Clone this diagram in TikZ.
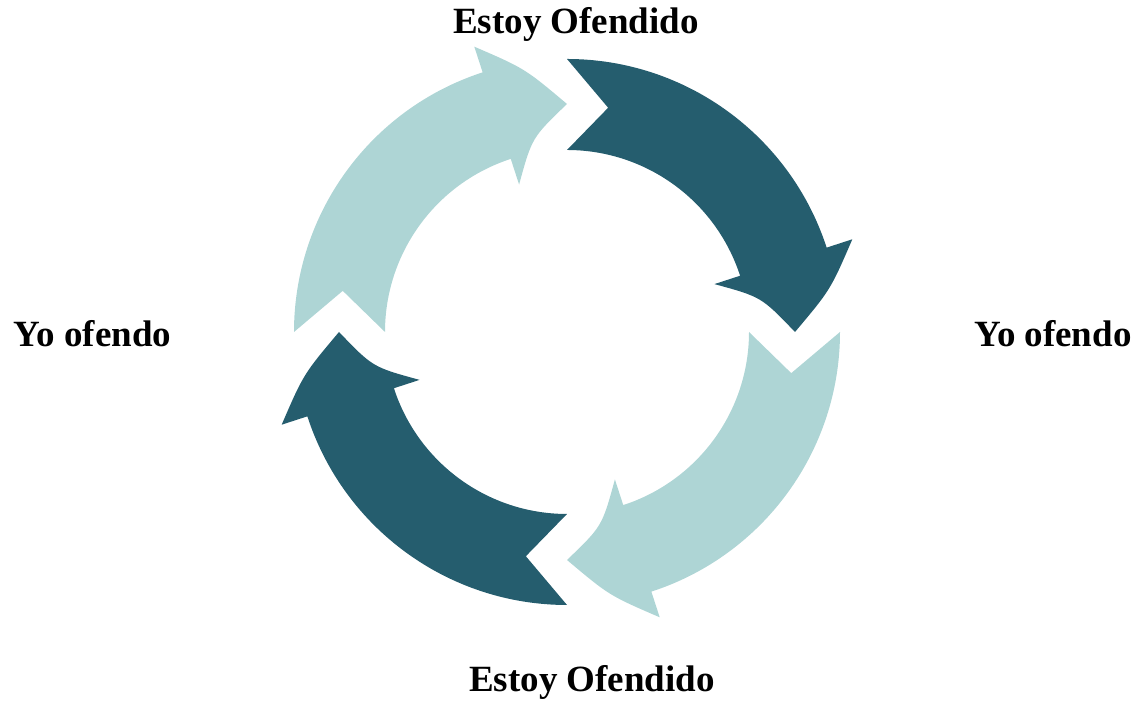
\documentclass[tikz,border=0pt]{standalone}
\usepackage{fontspec}
\setmainfont{Liberation Serif}
\definecolor{darkteal}{RGB}{37,93,110}
\definecolor{lightteal}{RGB}{174,213,213}
\tikzset{
  lbl/.style={font=\bfseries\fontsize{18.5}{22}\selectfont, anchor=base, inner sep=0pt},
}
\newcommand{\cyclearrow}[2]{%
  \begin{scope}[shift={(567,372)}, rotate=#1]
    \fill[#2] (90:273) arc[start angle=90, end angle=18, radius=273]
      -- (18:300) .. controls (263.5,42.2) .. (0:228)
      .. controls (194.3,35.1) .. (18:155)
      -- (18:182) arc[start angle=18, end angle=90, radius=182]
      -- (79.6:228) -- cycle;
  \end{scope}}
\begin{document}
\begin{tikzpicture}[x=0.5pt, y=0.5pt]
  \useasboundingbox (0,0) rectangle (1146,704);
  \cyclearrow{0}{darkteal}
  \cyclearrow{-90}{lightteal}
  \cyclearrow{-180}{darkteal}
  \cyclearrow{90}{lightteal}
  \node[lbl] (top) at (576,670) {Estoy Ofendido};
  \node[lbl] (bottom) at (592,12) {Estoy Ofendido};
  \node[lbl] (left) at (92.5,357) {Yo ofendo};
  \node[lbl] (right) at (1053,357) {Yo ofendo};
\end{tikzpicture}
\end{document}
